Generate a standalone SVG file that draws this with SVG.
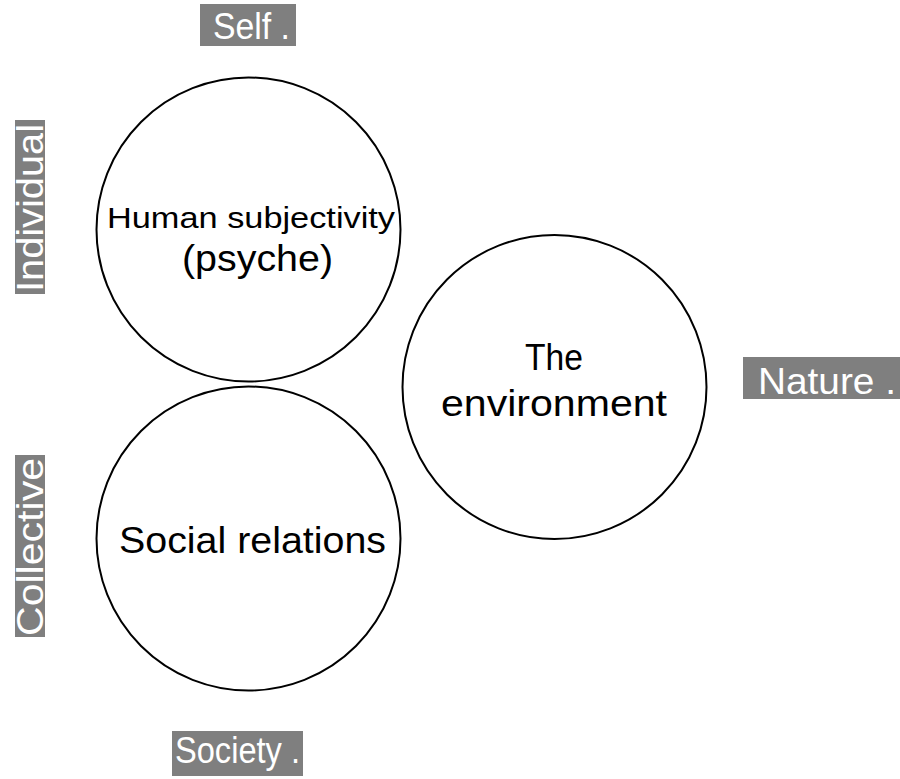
<svg xmlns="http://www.w3.org/2000/svg" width="900" height="779" viewBox="0 0 900 779">
<style>
.c{fill:#fff;stroke:#000;stroke-width:2}
.t{font-family:"Liberation Sans","DejaVu Sans",sans-serif;fill:#000}
.lb{fill:#7f7f7f}
.lt{font-family:"Liberation Sans","DejaVu Sans",sans-serif;fill:#fff}
</style>
<rect width="900" height="779" fill="#fff"/>
<g id="connectors"/>
<g id="node-psyche">
<circle class="c" cx="248.5" cy="229.5" r="152"/>
<text class="t" x="107" y="228" font-size="29" textLength="288" lengthAdjust="spacingAndGlyphs">Human subjectivity</text>
<text class="t" x="182" y="271" font-size="36" textLength="151" lengthAdjust="spacingAndGlyphs">(psyche)</text>
</g>
<g id="node-social">
<circle class="c" cx="248.5" cy="538.5" r="152"/>
<text class="t" x="119" y="553" font-size="37" textLength="267" lengthAdjust="spacingAndGlyphs">Social relations</text>
</g>
<g id="node-environment">
<circle class="c" cx="554.5" cy="387" r="152"/>
<text class="t" x="525" y="370" font-size="37" textLength="58" lengthAdjust="spacingAndGlyphs">The</text>
<text class="t" x="441" y="416" font-size="37" textLength="226" lengthAdjust="spacingAndGlyphs">environment</text>
</g>
<g id="label-self">
<rect class="lb" x="200" y="4" width="96" height="42"/>
<text class="lt" x="213" y="39" font-size="36" textLength="77" lengthAdjust="spacingAndGlyphs">Self .</text>
</g>
<g id="label-nature">
<rect class="lb" x="743" y="357" width="157" height="42"/>
<text class="lt" x="758" y="394" font-size="37" textLength="138" lengthAdjust="spacingAndGlyphs">Nature .</text>
</g>
<g id="label-society">
<rect class="lb" x="172" y="731" width="131" height="45"/>
<text class="lt" x="175" y="763" font-size="37" textLength="125" lengthAdjust="spacingAndGlyphs">Society .</text>
</g>
<g id="label-individual">
<rect class="lb" x="15" y="120" width="30" height="174"/>
<text class="lt" transform="translate(43,292) rotate(-90)" font-size="36" textLength="168" lengthAdjust="spacingAndGlyphs">Individual</text>
</g>
<g id="label-collective">
<rect class="lb" x="15" y="455" width="30" height="182"/>
<text class="lt" transform="translate(43,636) rotate(-90)" font-size="36" textLength="178" lengthAdjust="spacingAndGlyphs">Collective</text>
</g>
</svg>
